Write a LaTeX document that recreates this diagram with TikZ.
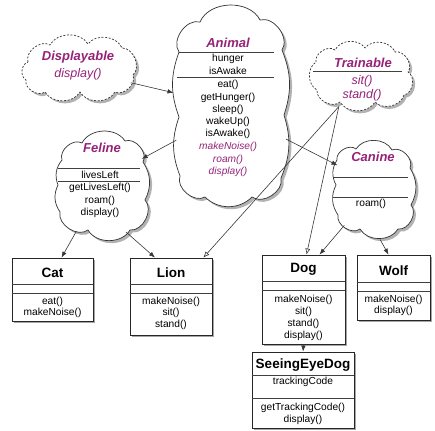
\documentclass[tikz,border=0pt]{standalone}
\usepackage{fontspec}
\setmainfont{Liberation Sans}
\usetikzlibrary{shapes.geometric,shadows,arrows.meta}
\definecolor{umlmag}{RGB}{150,35,120}
\definecolor{umlline}{RGB}{55,55,55}
\begin{document}
\begin{tikzpicture}[x=1pt,y=-1pt,
  % invisible ellipse that names a cloud and gives its border anchors
  cloudarea/.style={ellipse, draw=none, inner sep=0pt, outer sep=0pt},
  % puffy outline drawn around a cloud
  cloudline/.style={draw=black!80, line width=0.7pt, fill=white, line join=round,
    drop shadow={shadow xshift=2.5pt, shadow yshift=-2.5pt, opacity=0.3, fill=black}},
  lobe/.style={bend left=#1},
  iface/.style={dash pattern=on 2pt off 1.6pt},
  classbox/.style={draw=black!85, line width=0.8pt, fill=white, inner sep=0pt,
    drop shadow={shadow xshift=2pt, shadow yshift=-2pt, opacity=0.35, fill=black}},
  sepline/.style={draw=black!75, line width=0.7pt},
  mem/.style={font=\fontsize{10.2}{12}\selectfont, inner sep=0pt},
  absmem/.style={inner sep=0pt, font=\fontsize{10.2}{12}\selectfont\itshape, text=umlmag},
  ifmem/.style={inner sep=0pt, font=\fontsize{12.5}{14}\selectfont\itshape, text=umlmag},
  boxtitle/.style={inner sep=0pt, font=\fontsize{13.5}{15}\selectfont\bfseries},
  cloudtitle/.style={inner sep=0pt, font=\fontsize{13}{15}\selectfont\bfseries\itshape, text=umlmag},
  inherit/.style={draw=umlline, line width=0.6pt, -{Latex[length=6pt,width=4.5pt]}},
  realize/.style={draw=umlline, line width=0.6pt, -{Latex[open,length=6pt,width=5pt]}}
]
\useasboundingbox (0,0) rectangle (435,430);

% ---------- interfaces (dashed clouds) ----------
\path[cloudline, iface] (28,62) to[lobe=70] (50,45) to[lobe=60] (88,44) to[lobe=60] (122,48)
  to[lobe=70] (133,75) to[lobe=70] (115,92) to[lobe=60] (80,92) to[lobe=60] (45,92)
  to[lobe=70] (26,80) to[lobe=70] (28,62) -- cycle;
\node[cloudarea, minimum width=115pt, minimum height=65pt] (displayable) at (79.5,68) {};
\node[cloudtitle] (displayableT) at (78,57) {Displayable};
\node[ifmem] (displayableM) at (78,74) {display()};

\path[cloudline, iface] (316,62) to[lobe=70] (335,50) to[lobe=60] (365,48) to[lobe=60] (395,52)
  to[lobe=70] (408,72) to[lobe=70] (404,95) to[lobe=60] (375,102) to[lobe=60] (340,102)
  to[lobe=70] (317,90) to[lobe=60] (316,62) -- cycle;
\node[cloudarea, minimum width=103pt, minimum height=67pt] (trainable) at (361.5,76.5) {};
\node[cloudtitle] (trainableT) at (363,63) {Trainable};
\draw[sepline] (313,71) -- (402,71);
\node[ifmem] (trainableM1) at (362,81) {sit()};
\node[ifmem] (trainableM2) at (362,95) {stand()};

% ---------- abstract classes (solid clouds) ----------
\path[cloudline] (179,52) to[lobe=70] (200,22) to[lobe=65] (260,20) to[lobe=70] (282,50)
  to[lobe=20] (284,115) to[lobe=20] (281,178) to[lobe=70] (252,197) to[lobe=45] (205,197)
  to[lobe=70] (180,176) to[lobe=20] (179,117) to[lobe=20] (179,52) -- cycle;
\node[cloudarea, minimum width=116pt, minimum height=204pt] (animal) at (231,106) {};
\node[cloudtitle] (animalT) at (228,43) {Animal};
\draw[sepline] (179,52) -- (274,52);
\node[mem] (animalA1) at (228,59) {hunger};
\node[mem] (animalA2) at (228,71) {isAwake};
\draw[sepline] (177,77) -- (274,77);
\node[mem] (animalM1) at (228,85) {eat()};
\node[mem] (animalM2) at (228,97.5) {getHunger()};
\node[mem] (animalM3) at (228,109.5) {sleep()};
\node[mem] (animalM4) at (228,121.5) {wakeUp()};
\node[mem] (animalM5) at (228,134) {isAwake()};
\node[absmem] (animalM6) at (228,147) {makeNoise()};
\node[absmem] (animalM7) at (228,159.5) {roam()};
\node[absmem] (animalM8) at (228,172) {display()};

\path[cloudline] (62,160) to[lobe=70] (82,143) to[lobe=60] (125,141) to[lobe=70] (143,162)
  to[lobe=30] (145,200) to[lobe=70] (130,230) to[lobe=60] (88,230) to[lobe=70] (60,212)
  to[lobe=30] (58,185) to[lobe=30] (62,160) -- cycle;
\node[cloudarea, minimum width=93pt, minimum height=108pt] (feline) at (101.5,186) {};
\node[cloudtitle] (felineT) at (102,148) {Feline};
\draw[sepline] (58,168) -- (140,168);
\node[mem] (felineA1) at (100,174.5) {livesLeft};
\draw[sepline] (58,181) -- (140,181);
\node[mem] (felineM1) at (100,188) {getLivesLeft()};
\node[mem] (felineM2) at (100,200.5) {roam()};
\node[mem] (felineM3) at (100,213) {display()};

\path[cloudline] (337,160) to[lobe=70] (356,149) to[lobe=60] (392,150) to[lobe=70] (410,168)
  to[lobe=30] (411,205) to[lobe=70] (398,229) to[lobe=60] (360,229) to[lobe=70] (338,215)
  to[lobe=30] (336,185) to[lobe=30] (337,160) -- cycle;
\node[cloudarea, minimum width=84pt, minimum height=100pt] (canine) at (374,190) {};
\node[cloudtitle] (canineT) at (373,157) {Canine};
\draw[sepline] (333,177) -- (408,177);
\draw[sepline] (333,197) -- (408,197);
\node[mem] (canineM1) at (371,204) {roam()};

% ---------- concrete classes ----------
\node[classbox, minimum width=81pt, minimum height=63pt] (cat) at (52.5,289.5) {};
\node[boxtitle] (catT) at (cat.north |- 0,272.5) {Cat};
\draw[sepline] (cat.west |- 0,284) -- (cat.east |- 0,284);
\draw[sepline] (cat.west |- 0,293) -- (cat.east |- 0,293);
\node[mem] (catM1) at (cat.north |- 0,302) {eat()};
\node[mem] (catM2) at (cat.north |- 0,313) {makeNoise()};

\node[classbox, minimum width=82pt, minimum height=77pt] (lion) at (171,296.5) {};
\node[boxtitle] (lionT) at (lion.north |- 0,272.5) {Lion};
\draw[sepline] (lion.west |- 0,284) -- (lion.east |- 0,284);
\draw[sepline] (lion.west |- 0,293) -- (lion.east |- 0,293);
\node[mem] (lionM1) at (lion.north |- 0,302) {makeNoise()};
\node[mem] (lionM2) at (lion.north |- 0,313) {sit()};
\node[mem] (lionM3) at (lion.north |- 0,324.5) {stand()};

\node[classbox, minimum width=83pt, minimum height=89pt] (dog) at (303.5,299.5) {};
\node[boxtitle] (dogT) at (dog.north |- 0,269) {Dog};
\draw[sepline] (dog.west |- 0,281) -- (dog.east |- 0,281);
\draw[sepline] (dog.west |- 0,290) -- (dog.east |- 0,290);
\node[mem] (dogM1) at (dog.north |- 0,300) {makeNoise()};
\node[mem] (dogM2) at (dog.north |- 0,312) {sit()};
\node[mem] (dogM3) at (dog.north |- 0,324) {stand()};
\node[mem] (dogM4) at (dog.north |- 0,336) {display()};

\node[classbox, minimum width=73pt, minimum height=65pt] (wolf) at (393.5,287.5) {};
\node[boxtitle] (wolfT) at (wolf.north |- 0,270.5) {Wolf};
\draw[sepline] (wolf.west |- 0,282) -- (wolf.east |- 0,282);
\draw[sepline] (wolf.west |- 0,291) -- (wolf.east |- 0,291);
\node[mem] (wolfM1) at (wolf.north |- 0,300) {makeNoise()};
\node[mem] (wolfM2) at (wolf.north |- 0,311) {display()};

\node[classbox, minimum width=102pt, minimum height=76pt] (seeing) at (303,390) {};
\node[boxtitle] (seeingT) at (seeing.north |- 0,365.5) {SeeingEyeDog};
\draw[sepline] (seeing.west |- 0,375) -- (seeing.east |- 0,375);
\node[mem] (seeingA1) at (seeing.north |- 0,382) {trackingCode};
\draw[sepline] (seeing.west |- 0,398) -- (seeing.east |- 0,398);
\node[mem] (seeingM1) at (seeing.north |- 0,408) {getTrackingCode()};
\node[mem] (seeingM2) at (seeing.north |- 0,420) {display()};

% ---------- relations ----------
\draw[inherit] (displayable.-16) -- (animal.167);
\draw[inherit] (animal.212) -- (feline.34);
\draw[inherit] (animal.-31) -- (canine.146);
\draw[inherit] (feline.241) -- ([xshift=9pt]cat.north);
\draw[inherit] (feline.-62) -- ([xshift=-16pt]lion.north);
\draw[inherit] (canine.230) -- ([xshift=16pt]dog.north);
\draw[inherit] (canine.-83) -- ([xshift=-5pt]wolf.north);
\draw[inherit] (dog.south) -- (seeing.north);
\draw[realize] (trainable.233) -- ([xshift=-9pt]lion.north east);
\draw[realize] (trainable.233) -- ([xshift=3pt]dog.north);
\end{tikzpicture}
\end{document}
